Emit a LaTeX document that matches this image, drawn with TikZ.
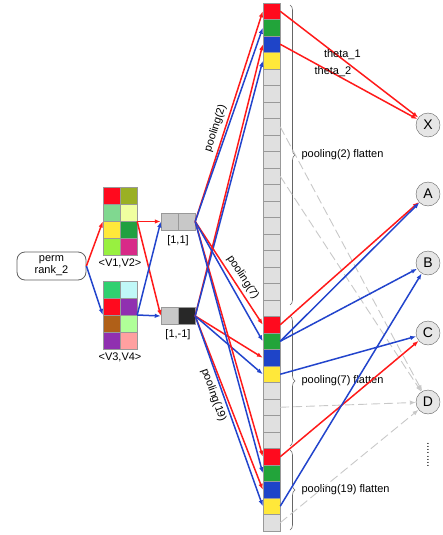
\documentclass[tikz,border=0pt]{standalone}
\usepackage{fontspec}
\setmainfont{Liberation Sans}
\usetikzlibrary{positioning,arrows.meta,decorations.pathreplacing}
\definecolor{lred}{HTML}{FF1A1A}
\definecolor{lblue}{HTML}{2244CC}
\definecolor{lgray}{HTML}{C8C8C8}
\definecolor{cred}{HTML}{FF0A1E}
\definecolor{cgreen}{HTML}{22A43A}
\definecolor{cblue}{HTML}{1E44C8}
\definecolor{cyellow}{HTML}{FFE83A}
\definecolor{cellgray}{HTML}{E0E0E0}
\definecolor{cellline}{HTML}{999999}
\definecolor{braceline}{HTML}{666666}
\definecolor{outline}{HTML}{606060}
\definecolor{outfill}{HTML}{E6E6E6}
\definecolor{pgray}{HTML}{C8C8C8}
\definecolor{pdark}{HTML}{282828}
\definecolor{molive}{HTML}{9AB024}
\definecolor{mlgreen}{HTML}{80D890}
\definecolor{mlyellow}{HTML}{F0FFA0}
\definecolor{mgreen}{HTML}{20A040}
\definecolor{mlime}{HTML}{98F040}
\definecolor{mmagenta}{HTML}{D82A88}
\definecolor{mmint}{HTML}{30D070}
\definecolor{mcyan}{HTML}{C0F8F8}
\definecolor{mpurple}{HTML}{9030B0}
\definecolor{mbrown}{HTML}{B06018}
\definecolor{mpale}{HTML}{B0FF98}
\definecolor{mpink}{HTML}{FFA0A0}

\begin{document}
\begin{tikzpicture}[x=1pt,y=-1pt,
        font=\fontsize{11}{12}\selectfont,
        cell/.style={draw=cellline,fill=cellgray,minimum width=17pt,minimum height=16.5pt,inner sep=0pt},
        sq/.style={draw=cellline,minimum size=17pt,inner sep=0pt},
        outnode/.style={circle,draw=outline,fill=outfill,minimum size=24pt,inner sep=0pt,font=\fontsize{14}{16}\selectfont},
        redarr/.style={draw=lred,line width=1.5pt,-{Latex[length=6pt,width=4.5pt]}},
        bluearr/.style={draw=lblue,line width=1.5pt,-{Latex[length=6pt,width=4.5pt]}},
        grayarr/.style={draw=lgray,line width=0.9pt,dash pattern=on 9pt off 4pt,-{Latex[length=6pt,width=4.5pt]}},
        flatbrace/.style={draw=braceline,line width=0.6pt,decorate,decoration={brace,amplitude=5pt}}]
        \useasboundingbox (0,0) rectangle (442,535);

        % input and the two matrices
        \node[draw=outline,line width=0.8pt,rounded corners=8pt,minimum width=69pt,minimum height=28pt,align=center,inner sep=1pt] (perm) at (51.5,266) {perm\\rank\_2};
        \node[minimum width=34pt,minimum height=68pt,inner sep=0pt] (v12) at (120,221.5) {};
        \node[minimum width=34pt,minimum height=68pt,inner sep=0pt] (v34) at (120,315) {};
        \foreach \r/\cl/\cr in {0/cred/molive,1/mlgreen/mlyellow,2/cyellow/mgreen,3/mlime/mmagenta} {
            \node[sq,fill=\cl] (v12l\r) at (111.5,{196+17*\r}) {};
            \node[sq,fill=\cr] (v12r\r) at (128.5,{196+17*\r}) {};
        }
        \foreach \r/\cl/\cr in {0/mmint/mcyan,1/cred/mpurple,2/mbrown/mpale,3/mpurple/mpink} {
            \node[sq,fill=\cl] (v34l\r) at (111.5,{289.5+17*\r}) {};
            \node[sq,fill=\cr] (v34r\r) at (128.5,{289.5+17*\r}) {};
        }
        \node[below=0pt of v12] (l12) {<V1,V2>};
        \node[below=0pt of v34] (l34) {<V3,V4>};

        % the two pairs
        \node[sq,fill=pgray] (p11a) at (169.5,221.5) {};
        \node[sq,fill=pgray] (p11b) at (186.5,221.5) {};
        \node[sq,fill=pgray] (p1ma) at (169.5,316) {};
        \node[sq,fill=pdark] (p1mb) at (186.5,316) {};
        \node (l11) at (178,241) {[1,1]};
        \node (l1m) at (178,335) {[1,-1]};

        \draw[redarr] (perm.east) -- (v12.west);
        \draw[bluearr] (perm.east) -- (v34.west);
        \draw[redarr] (v12.east) -- (p11a.west);
        \draw[redarr] (v12.east) -- (p1ma.west);
        \draw[bluearr] (v34.east) -- (p11a.west);
        \draw[bluearr] (v34.east) -- (p1ma.west);

        % flattened column
        \foreach \i in {0,...,31}
            \node[cell] (c\i) at (271.5,{11.25+16.5*\i}) {};
        \foreach \b in {0,19,27} {
            \foreach \k/\col in {0/cred,1/cgreen,2/cblue,3/cyellow} {
                \pgfmathtruncatemacro{\j}{\b+\k}
                \node[cell,fill=\col] (k\j) at (c\j) {};
            }
        }
        \draw[flatbrace] (290,5) -- (290,305);
        \draw[flatbrace] (290,316) -- (290,446);
        \draw[flatbrace] (290,450) -- (290,530);
        \node[anchor=west] (f2) at (298,155) {pooling(2) flatten};
        \node[anchor=west] (f7) at (298,381) {pooling(7) flatten};
        \node[anchor=west] (f19) at (298,490) {pooling(19) flatten};

        % pairs to column
        \draw[redarr] (p11b.east) -- (c0.west) node[pos=0.43,above,sloped] (s2) {pooling(2)};
        \draw[bluearr] (p11b.east) -- (c1.west);
        \draw[redarr] (p1mb.east) -- (c2.west);
        \draw[bluearr] (p1mb.east) -- (c3.west);
        \draw[redarr] (p11b.east) -- (c19.west) node[pos=0.59,above,sloped] (s7) {pooling(7)};
        \draw[bluearr] (p11b.east) -- (c20.west);
        \draw[redarr] (p1mb.east) -- (c21.west);
        \draw[bluearr] (p1mb.east) -- (c22.west);
        \draw[redarr] (p11b.east) -- (c27.west);
        \draw[bluearr] (p11b.east) -- (c28.west);
        \draw[redarr] (p1mb.east) -- (c29.west);
        \draw[bluearr] (p1mb.east) -- (c30.west) node[pos=0.40,below,sloped] (s19) {pooling(19)};

        % outputs
        \node[outnode] (X) at (428,125) {X};
        \node[outnode] (A) at (428,194) {A};
        \node[outnode] (B) at (428,263) {B};
        \node[outnode] (C) at (428,333) {C};
        \node[outnode] (D) at (428,402) {D};
        \node[rotate=90] (more) at (428,455) {........};

        \draw[redarr] (c0.east) -- (X) node[pos=0.45,yshift=4pt] (th1) {theta\_1};
        \draw[redarr] (c2.east) -- (X) node[pos=0.385,yshift=1pt] (th2) {theta\_2};
        \draw[grayarr] (c7.east) -- (D);
        \draw[grayarr] (c10.east) -- (D);
        \draw[grayarr] (c24.east) -- (D);
        \draw[grayarr] (c31.east) -- (D);
        \draw[redarr] (c19.east) -- (A);
        \draw[bluearr] (c20.east) -- (A);
        \draw[bluearr] (c20.east) -- (B);
        \draw[bluearr] (c22.east) -- (C);
        \draw[redarr] (c27.east) -- (C);
        \draw[bluearr] (c30.east) -- (B);
    \end{tikzpicture}
\end{document}
